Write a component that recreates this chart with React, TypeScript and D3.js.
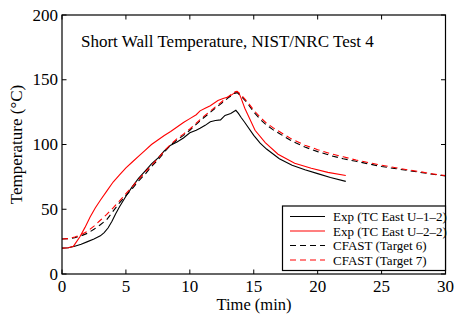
import React from "react";
import * as d3 from "d3";

const title = "Short Wall Temperature, NIST/NRC Test 4";
const xLabel = "Time (min)";
const yLabel = "Temperature (°C)";
const xTicks = [0, 5, 10, 15, 20, 25, 30];
const yTicks = [0, 50, 100, 150, 200];

const expBlackT = [0, 0.5, 1, 1.5, 2, 2.5, 3, 3.3, 3.6, 3.9, 4.2, 4.5, 5, 5.5, 6, 6.5, 7, 7.5, 8, 8.5, 9, 9.5, 10, 10.5, 10.8, 11.2, 11.6, 12, 12.4, 12.75, 13.2, 13.6, 13.8, 14, 14.3, 15, 15.5, 16, 17, 18, 19, 20, 21, 22.2];
const expBlackV = [20, 20.3, 21.5, 23, 25, 27, 29.5, 32, 35.5, 40.5, 46.5, 52, 60, 67.5, 74, 79.5, 85, 89.5, 95, 99.5, 102, 105, 109, 111, 112.5, 114.8, 117.5, 118.5, 119, 122.5, 124, 126.4, 124, 121, 117, 107, 101, 96.5, 89, 84, 80.5, 77.5, 74.5, 71.5];

const expRedT = [0, 0.5, 0.9, 1.4, 1.8, 2.2, 2.6, 3, 3.5, 4, 4.5, 5, 5.5, 6, 6.5, 7, 7.5, 8, 8.5, 9, 9.5, 10, 10.5, 10.8, 11.2, 11.6, 12.2, 12.6, 13, 13.3, 13.65, 13.85, 14, 14.3, 15.1, 15.9, 16.9, 18.2, 19.5, 20.8, 22.2];
const expRedV = [20, 20.3, 21.5, 28.8, 36, 44, 51, 57, 64, 71, 76.5, 82, 86.5, 91, 95.5, 100, 103.5, 107, 110, 113.5, 117, 120, 123, 126, 128, 130, 134, 135.5, 136.7, 138.5, 141, 139.5, 136, 128, 111, 101.5, 92.5, 85.5, 81.6, 78.5, 76];

const cfast6T = [0, 0.5, 1, 1.5, 2, 2.5, 3, 3.5, 4, 4.5, 5, 5.5, 6, 6.5, 7, 7.5, 8, 8.5, 9, 9.5, 10, 10.5, 11, 11.5, 12, 12.5, 13, 13.5, 13.7, 14, 14.5, 15, 15.5, 16, 16.5, 17, 18, 19, 20, 21, 22, 23, 24, 25, 26, 27, 28, 29, 30];
const cfast6V = [27, 27.3, 28, 29.5, 31.5, 34.5, 38, 42, 48.5, 55, 60.5, 66, 72, 77, 83, 88, 94, 99.6, 103.5, 107, 111, 115.5, 120, 124, 128, 132, 136, 139.5, 140, 137.5, 132, 125, 119.5, 115, 111.5, 108.5, 102.5, 98, 94.5, 91.5, 89, 87, 85, 83, 81.5, 80, 78.5, 77, 75.7];

const cfast7T = [0, 0.5, 1, 1.5, 2, 2.5, 3, 3.5, 4, 4.5, 5, 5.5, 6, 6.5, 7, 7.5, 8, 8.5, 9, 9.5, 10, 10.5, 11, 11.5, 12, 12.5, 13, 13.5, 13.7, 14, 14.5, 15, 15.5, 16, 16.5, 17, 18, 19, 20, 21, 22, 23, 24, 25, 26, 27, 28, 29, 30];
const cfast7V = [27, 27.3, 28.5, 30.5, 33, 37, 41.5, 46, 51, 56.5, 62, 67.5, 73, 78.5, 84, 89, 95, 100, 104.5, 108, 112, 116.5, 121, 125, 129, 133, 137, 140.5, 141, 138.5, 133, 126.5, 121, 116.5, 113, 110, 104, 99.5, 96, 93, 90.5, 88, 86, 84, 82.3, 80.5, 79, 77.3, 76];

const seriesNames = ["Exp (TC East U–1–2)", "Exp (TC East U–2–2)", "CFAST (Target 6)", "CFAST (Target 7)"];

const W = 456;
const H = 320;
const plot = { left: 62, right: 445.5, top: 15, bottom: 274 };
const FONT = "'Liberation Serif', 'Times New Roman', serif";

export default function App() {
  const x = d3.scaleLinear().domain([0, 30]).range([plot.left, plot.right]);
  const y = d3.scaleLinear().domain([0, 200]).range([plot.bottom, plot.top]);
  const line = d3
    .line<[number, number]>()
    .x((d) => x(d[0]))
    .y((d) => y(d[1]));
  const zip = (t: number[], v: number[]) => t.map((tt, i) => [tt, v[i]] as [number, number]);

  const series = [
    { data: zip(expBlackT, expBlackV), color: "#000", dash: undefined as string | undefined },
    { data: zip(expRedT, expRedV), color: "#ff0000", dash: undefined },
    { data: zip(cfast6T, cfast6V), color: "#000", dash: "6,4" },
    { data: zip(cfast7T, cfast7V), color: "#ff0000", dash: "6,4" },
  ];

  const tickLen = 4.5;
  const leg = { x0: 282.5, y0: 206, x1: 445.5, y1: 270.5 };
  const legRows = [216.5, 231, 245.5, 260];

  return (
    <svg width={W} height={H} style={{ position: "absolute", left: 0, top: 0, background: "#fff" }} fontFamily={FONT}>
      <rect x={0} y={0} width={W} height={H} fill="#fff" />
      {series.map((s, i) => (
        <path key={i} d={line(s.data) || ""} fill="none" stroke={s.color} strokeWidth={1.1} strokeDasharray={s.dash} />
      ))}
      <rect x={plot.left} y={plot.top} width={plot.right - plot.left} height={plot.bottom - plot.top} fill="none" stroke="#000" strokeWidth={1.2} />
      {xTicks.map((t) => (
        <g key={"x" + t}>
          <line x1={x(t)} x2={x(t)} y1={plot.bottom} y2={plot.bottom - tickLen} stroke="#000" strokeWidth={1} />
          <line x1={x(t)} x2={x(t)} y1={plot.top} y2={plot.top + tickLen} stroke="#000" strokeWidth={1} />
          <text x={x(t)} y={291.5} fontSize={17} textAnchor="middle">{t}</text>
        </g>
      ))}
      {yTicks.map((t) => (
        <g key={"y" + t}>
          <line x1={plot.left} x2={plot.left + tickLen} y1={y(t)} y2={y(t)} stroke="#000" strokeWidth={1} />
          <line x1={plot.right} x2={plot.right - tickLen} y1={y(t)} y2={y(t)} stroke="#000" strokeWidth={1} />
          <text x={58} y={y(t) + 5.5} fontSize={17} textAnchor="end">{t}</text>
        </g>
      ))}
      <text x={81} y={46.7} fontSize={17}>{title}</text>
      <text x={254} y={310} fontSize={16.5} textAnchor="middle">{xLabel}</text>
      <text transform={`translate(22,${(plot.top + plot.bottom) / 2}) rotate(-90)`} fontSize={17} textAnchor="middle">{yLabel}</text>
      <rect x={leg.x0} y={leg.y0} width={leg.x1 - leg.x0} height={leg.y1 - leg.y0} fill="#fff" stroke="#000" strokeWidth={1.2} />
      {series.map((s, i) => (
        <g key={"l" + i}>
          <line x1={290} x2={325} y1={legRows[i]} y2={legRows[i]} stroke={s.color} strokeWidth={1.1} strokeDasharray={s.dash} />
          <text x={333} y={legRows[i] + 4.5} fontSize={13}>{seriesNames[i]}</text>
        </g>
      ))}
    </svg>
  );
}
